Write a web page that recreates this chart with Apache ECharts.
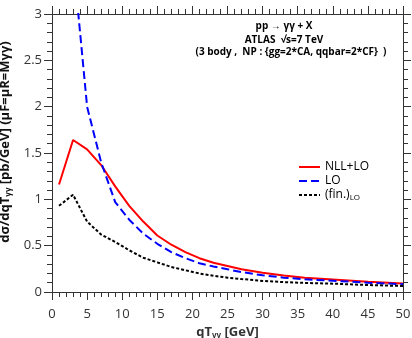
<!DOCTYPE html>
<html>
<head>
<meta charset="utf-8">
<script src="https://cdn.jsdelivr.net/npm/echarts@6/dist/echarts.min.js"></script>
<style>
  html, body { margin: 0; padding: 0; background: #fff; }
  #chart { width: 412px; height: 338px; }
</style>
</head>
<body>
<div id="chart"></div>
<script>
// qT values (GeV)
const qT = [1, 3, 5, 7, 9, 11, 13, 15, 17, 19, 21, 23, 25, 27, 30, 33, 36, 40, 45, 50];

// dsigma/dqT values
const nllLO = [1.16, 1.64, 1.54, 1.37, 1.14, 0.93, 0.76, 0.61, 0.51, 0.43, 0.365, 0.315, 0.28, 0.245, 0.208, 0.178, 0.155, 0.135, 0.11, 0.092];
const lo    = [6.0, 3.6, 2.0, 1.40, 0.97, 0.78, 0.63, 0.52, 0.43, 0.365, 0.31, 0.275, 0.245, 0.215, 0.18, 0.155, 0.137, 0.122, 0.1, 0.084];
const finLO = [0.93, 1.05, 0.76, 0.62, 0.54, 0.45, 0.37, 0.32, 0.27, 0.235, 0.2, 0.175, 0.155, 0.14, 0.12, 0.107, 0.098, 0.09, 0.075, 0.065];

const seriesNames = ['NLL+LO', 'LO', '(fin.)LO'];

const pairs = (ys) => qT.map((x, i) => [x, ys[i]]);

const axisCol = '#333';
const baseFont = '"Open Sans", "Noto Sans", sans-serif';

// shared axis look (onZero off so the top/right copies stay at the frame edge)
const tickStyle = () => ({
    axisLine: { onZero: false, lineStyle: { color: axisCol, width: 1 } },
    axisTick: { show: true, length: 8, lineStyle: { color: axisCol } },
    minorTick: { show: true, splitNumber: 5, length: 5, lineStyle: { color: axisCol } },
    splitLine: { show: false },
    minorSplitLine: { show: false }
});

const chart = echarts.init(document.getElementById('chart'), null, { renderer: 'canvas' });

const option = {
    animation: false,
    textStyle: { fontFamily: baseFont },
    grid: { left: 52, right: 9, top: 14, bottom: 46, outerBoundsMode: 'none', containLabel: false },
    legend: {
        orient: 'vertical',
        left: 293,
        top: 156,
        itemWidth: 21,
        itemHeight: 10,
        itemGap: 2,
        data: seriesNames,
        itemStyle: { opacity: 0, borderWidth: 0 },
        textStyle: {
            fontSize: 12,
            color: '#000',
            fontFamily: baseFont,
            rich: { sub: { fontSize: 8, verticalAlign: 'bottom', padding: [6, 0, 0, 0], color: '#000' } }
        },
        formatter: (name) => name === '(fin.)LO' ? '(fin.){sub|LO}' : name
    },
    xAxis: [
        Object.assign({
            type: 'value', min: 0, max: 50, interval: 5, position: 'bottom',
            axisLabel: { color: axisCol, fontSize: 13, margin: 16, fontFamily: baseFont },
            name: 'qT{sub|γγ} [GeV]',
            nameLocation: 'middle',
            nameGap: 33,
            nameTextStyle: {
                fontSize: 13, fontWeight: 'bold', color: axisCol, fontFamily: baseFont,
                rich: { sub: { fontSize: 8, fontWeight: 'bold', padding: [7, 0, 0, 0] } }
            }
        }, tickStyle()),
        Object.assign({
            type: 'value', min: 0, max: 50, interval: 5, position: 'top',
            axisLabel: { show: false }
        }, tickStyle())
    ],
    yAxis: [
        Object.assign({
            type: 'value', min: 0, max: 3, interval: 0.5, position: 'left',
            axisLabel: { color: axisCol, fontSize: 13, margin: 10, fontFamily: baseFont },
            name: 'dσ/dqT{sub|γγ} [pb/GeV] (μF=μR=Mγγ)',
            nameLocation: 'middle',
            nameGap: 31,
            nameTextStyle: {
                fontSize: 13, fontWeight: 'bold', color: '#111', fontFamily: baseFont,
                padding: [0, 0, 0, 22],
                rich: { sub: { fontSize: 8, fontWeight: 'bold', padding: [7, 0, 0, 0] } }
            }
        }, tickStyle()),
        Object.assign({
            type: 'value', min: 0, max: 3, interval: 0.5, position: 'right',
            axisLabel: { show: false }
        }, tickStyle())
    ],
    graphic: [
        { type: 'text', x: 284, y: 21, style: { text: 'pp → γγ + X', font: 'bold 10px ' + baseFont, fill: '#000', textAlign: 'center' } },
        { type: 'text', x: 284, y: 35, style: { text: 'ATLAS  √s=7 TeV', font: 'bold 10px ' + baseFont, fill: '#000', textAlign: 'center' } },
        { type: 'text', x: 291, y: 47, style: { text: '(3 body ,  NP : {gg=2*CA, qqbar=2*CF}  )', font: 'bold 10px ' + baseFont, fill: '#000', textAlign: 'center' } }
    ],
    series: [
        {
            name: 'NLL+LO', type: 'line', data: pairs(nllLO), symbol: 'none', clip: true,
            lineStyle: { color: '#ff0000', width: 2 }, itemStyle: { color: '#ff0000' }
        },
        {
            name: 'LO', type: 'line', data: pairs(lo), symbol: 'none', clip: true,
            lineStyle: { color: '#0000ff', width: 2, type: [8, 4] }, itemStyle: { color: '#0000ff' }
        },
        {
            name: '(fin.)LO', type: 'line', data: pairs(finLO), symbol: 'none', clip: true,
            lineStyle: { color: '#000', width: 2, type: [3, 2] }, itemStyle: { color: '#000' }
        }
    ]
};

chart.setOption(option);
</script>
</body>
</html>
